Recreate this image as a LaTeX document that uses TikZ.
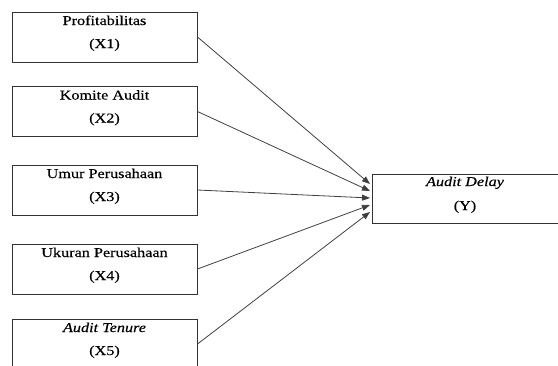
\documentclass[tikz,border=0pt]{standalone}
\usepackage{fontspec}
\setmainfont[FakeStretch=1.2,UprightFeatures={FakeBold=0.4},ItalicFeatures={FakeBold=0.4}]{Liberation Serif}
\usetikzlibrary{arrows.meta}
\begin{document}
\begin{tikzpicture}[x=1pt,y=-1pt,
  box/.style={draw=black!80,line width=1pt,minimum width=185pt,minimum height=50pt,inner sep=0pt},
  lbl/.style={anchor=base,inner sep=0pt,font=\fontsize{13.5pt}{16pt}\selectfont},
  arr/.style={draw=black!75,line width=0.8pt,-{Triangle[length=8pt,width=6pt]}}]
\useasboundingbox (0,0) rectangle (558,365);
\clip (0,0) rectangle (558,365);
% left boxes
\node[box] (b1) at (104.5,37) {};
\node[lbl] (b1a) at (104.5,25) {Profitabilitas};
\node[lbl] (b1b) at (104.5,48) {(X1)};
\node[box] (b2) at (104.5,111.5) {};
\node[lbl] (b2a) at (104.5,99.5) {Komite Audit};
\node[lbl] (b2b) at (104.5,122.5) {(X2)};
\node[box] (b3) at (104.5,190) {};
\node[lbl] (b3a) at (104.5,178) {Umur Perusahaan};
\node[lbl] (b3b) at (104.5,201) {(X3)};
\node[box] (b4) at (104.5,269) {};
\node[lbl] (b4a) at (104.5,257) {Ukuran Perusahaan};
\node[lbl] (b4b) at (104.5,280) {(X4)};
\node[box] (b5) at (104.5,344) {};
\node[lbl] (b5a) at (104.5,332) {\itshape Audit Tenure};
\node[lbl] (b5b) at (104.5,355) {(X5)};
% right box
\node[box,minimum width=186pt,minimum height=49pt] (y) at (465,198.5) {};
\node[lbl] (ya) at (465,186) {\itshape Audit Delay};
\node[lbl] (yb) at (465,210) {(Y)};
% targets
\coordinate (t1) at (370,184);
\coordinate (t2) at (370,191);
\coordinate (t3) at (370,198);
\coordinate (t4) at (370,205);
\coordinate (t5) at (370,212);
\draw[arr] (b1.east) -- (t1);
\draw[arr] (b2.east) -- (t2);
\draw[arr] (b3.east) -- (t3);
\draw[arr] (b4.east) -- (t4);
\draw[arr] (b5.east) -- (t5);
\end{tikzpicture}
\end{document}
